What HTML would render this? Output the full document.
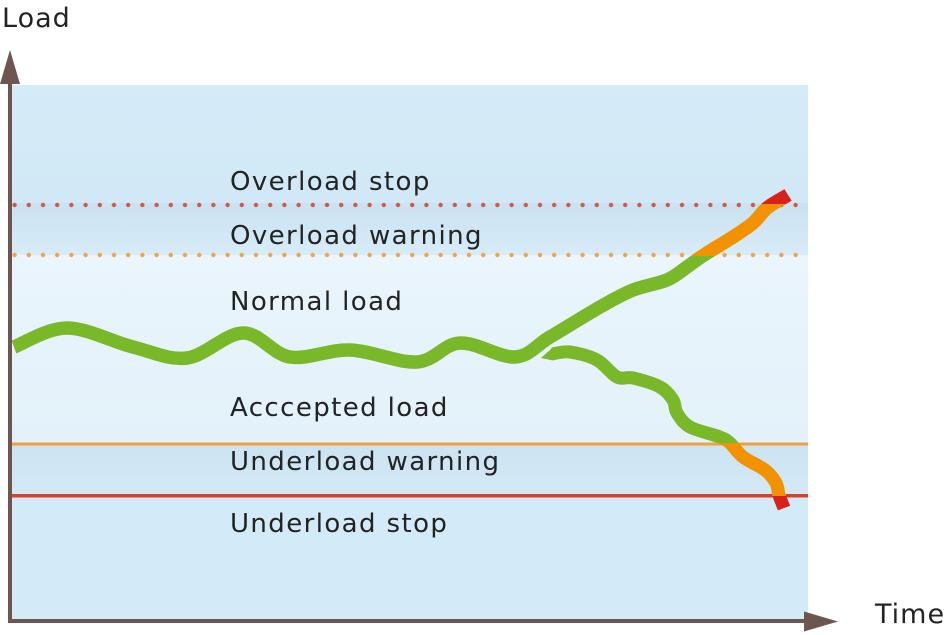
<!DOCTYPE html>
<html>
<head>
<meta charset="utf-8">
<style>
  html, body { margin:0; padding:0; background:#ffffff; }
  body { width:946px; height:635px; overflow:hidden; }
  svg { display:block; }
  text { font-family: "DejaVu Sans", "Liberation Sans", sans-serif; fill:#232323; }
</style>
</head>
<body>
<svg width="946" height="635" viewBox="0 0 946 635" xmlns="http://www.w3.org/2000/svg">
  <defs>
    <linearGradient id="gTop" x1="0" y1="0" x2="0" y2="1">
      <stop offset="0" stop-color="#d5ebf8"/>
      <stop offset="1" stop-color="#d1e8f6"/>
    </linearGradient>
    <linearGradient id="gOver" x1="0" y1="0" x2="0" y2="1">
      <stop offset="0" stop-color="#c9e1f1"/>
      <stop offset="1" stop-color="#d8ecf8"/>
    </linearGradient>
    <linearGradient id="gNorm" x1="0" y1="0" x2="0" y2="1">
      <stop offset="0" stop-color="#eaf5fc"/>
      <stop offset="1" stop-color="#e3f1fa"/>
    </linearGradient>
    <linearGradient id="gUnder" x1="0" y1="0" x2="0" y2="1">
      <stop offset="0" stop-color="#cce3f2"/>
      <stop offset="1" stop-color="#d3e9f6"/>
    </linearGradient>
    <clipPath id="cUpOrange"><rect x="0" y="0" width="946" height="256"/></clipPath>
    <clipPath id="cUpRed"><rect x="0" y="0" width="946" height="204"/></clipPath>
    <clipPath id="cDownOrange"><rect x="0" y="443" width="946" height="200"/></clipPath>
    <clipPath id="cDownRed"><rect x="0" y="496" width="946" height="200"/></clipPath>
    <pattern id="dotsRed" x="7.5" y="0" width="14.2" height="10" patternUnits="userSpaceOnUse">
      <circle cx="7.1" cy="5" r="2.2" fill="#d9573c"/>
    </pattern>
    <pattern id="dotsOrange" x="7.5" y="0" width="14.2" height="10" patternUnits="userSpaceOnUse">
      <circle cx="7.1" cy="5" r="2.2" fill="#f2a445"/>
    </pattern>
  </defs>

  <!-- panel bands -->
  <rect x="12" y="85" width="796" height="118" fill="url(#gTop)"/>
  <rect x="12" y="203" width="796" height="52" fill="url(#gOver)"/>
  <rect x="12" y="255" width="796" height="189" fill="url(#gNorm)"/>
  <rect x="12" y="444" width="796" height="52" fill="url(#gUnder)"/>
  <rect x="12" y="496" width="796" height="125" fill="#d3eaf8"/>

  <!-- threshold lines -->
  <rect x="12" y="198" width="790" height="10" fill="url(#dotsRed)"/>
  <rect x="12" y="250" width="790" height="10" fill="url(#dotsOrange)"/>
  <rect x="12" y="442.5" width="796" height="3" fill="#f0a040"/>
  <rect x="12" y="494" width="796" height="3.5" fill="#d8402c"/>

  <!-- labels -->
  <g font-size="26" letter-spacing="1.4">
    <text x="230" y="190">Overload stop</text>
    <text x="230" y="244">Overload warning</text>
    <text x="230" y="310">Normal load</text>
    <text x="230" y="416">Acccepted load</text>
    <text x="230" y="470">Underload warning</text>
    <text x="230" y="532">Underload stop</text>
  </g>
  <text x="2" y="27" font-size="27" letter-spacing="1">Load</text>
  <text x="875" y="623" font-size="27" letter-spacing="1">Time</text>

  <!-- up curve -->
  <path fill="none" stroke="#78b829" stroke-width="13.5" stroke-linejoin="round"
    d="M14,347 C22.8,343.8 47.2,328 67,328 C86.8,328 113,342 133,347 C153,352 168.7,360.3 187,358
       C205.3,355.7 225.8,333.2 243,333 C260.2,332.8 272.2,354.2 290,357 C307.8,359.8 328.8,349.2 350,350
       C371.2,350.8 398.7,363.2 417,362 C435.3,360.8 443.7,343.8 460,343 C476.3,342.2 500,358 515,357
       C530,356 535.8,345.3 550,337 C564.2,328.7 586.2,314.8 600,307 C613.8,299.2 621.8,294.5 633,290
       C644.2,285.5 658,283.8 667,280 C676,276.2 680.8,271.2 687,267 C693.2,262.8 696.3,260 704,255
       C711.7,250 724.8,242.3 733,237 C741.2,231.7 747.3,227.8 753,223 C758.7,218.2 761.2,212.7 767,208
       C772.8,203.3 784.5,197.2 788,195"/>
  <path fill="none" stroke="#f39200" stroke-width="13.5" stroke-linejoin="round" clip-path="url(#cUpOrange)"
    d="M687,267 C693.2,262.8 696.3,260 704,255
       C711.7,250 724.8,242.3 733,237 C741.2,231.7 747.3,227.8 753,223 C758.7,218.2 761.2,212.7 767,208
       C772.8,203.3 784.5,197.2 788,195"/>
  <path fill="none" stroke="#d8201c" stroke-width="13.5" stroke-linejoin="round" clip-path="url(#cUpRed)"
    d="M753,223 C758.7,218.2 761.2,212.7 767,208 C772.8,203.3 784.5,197.2 788,195"/>

  <!-- down curve -->
  <polygon points="541,358 553,347.3 553,360.5" fill="#78b829"/>
  <path fill="none" stroke="#78b829" stroke-width="13" stroke-linejoin="round"
    d="M552,354 C555,353.7 562.5,351 570,352 C577.5,353 589.2,355.8 597,360 C604.8,364.2 611,374 617,377
       C623,380 625.8,376.3 633,378 C640.2,379.7 653.3,383.3 660,387 C666.7,390.7 670.2,395.7 673,400
       C675.8,404.3 674.2,408.5 677,413 C679.8,417.5 682.8,423 690,427 C697.2,431 713.3,434.3 720,437
       C726.7,439.7 726.2,439.7 730,443 C733.8,446.3 737.2,452.5 743,457 C748.8,461.5 759.5,465.7 765,470
       C770.5,474.3 773.7,478.8 776,483 C778.3,487.2 777.7,490.8 779,495 C780.3,499.2 783.2,505.8 784,508"/>
  <path fill="none" stroke="#f39200" stroke-width="13" stroke-linejoin="round" clip-path="url(#cDownOrange)"
    d="M720,437 C726.7,439.7 726.2,439.7 730,443 C733.8,446.3 737.2,452.5 743,457 C748.8,461.5 759.5,465.7 765,470
       C770.5,474.3 773.7,478.8 776,483 C778.3,487.2 777.7,490.8 779,495 C780.3,499.2 783.2,505.8 784,508"/>
  <path fill="none" stroke="#d8201c" stroke-width="13" stroke-linejoin="round" clip-path="url(#cDownRed)"
    d="M776,483 C778.3,487.2 777.7,490.8 779,495 C780.3,499.2 783.2,505.8 784,508"/>

  <!-- axes -->
  <rect x="8" y="80" width="4" height="542" fill="#6e5650"/>
  <polygon points="10,50 0,84 20,84" fill="#6e5650"/>
  <rect x="8" y="619" width="800" height="4" fill="#6e5650"/>
  <polygon points="838,621.5 804,611.5 804,631.5" fill="#6e5650"/>
</svg>
</body>
</html>
